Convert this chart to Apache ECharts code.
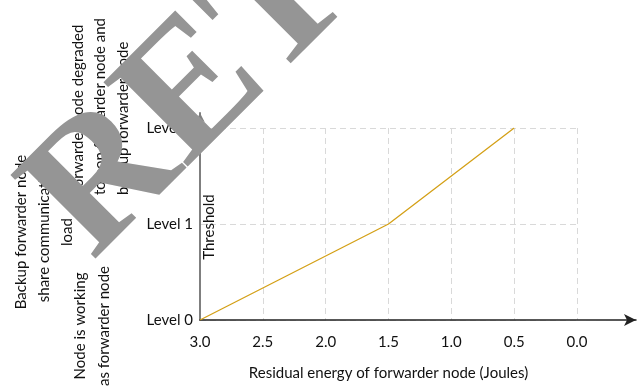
<!DOCTYPE html>
<html>
<head>
<meta charset="utf-8">
<script src="https://cdn.jsdelivr.net/npm/echarts@6/dist/echarts.min.js"></script>
<style>
  html, body { margin: 0; padding: 0; background: #fff; }
  #chart { width: 638px; height: 388px; }
</style>
</head>
<body>
<div id="chart"></div>
<script>
// values
const levels = ["Level 0", "Level 1", "Level 3"];
const energy = [3.0, 1.5, 0.5];
const thresholdLevel = ["Level 0", "Level 1", "Level 3"];

const FONT = "Lato, 'Open Sans', sans-serif";
const TEXT = "#111";

const chart = echarts.init(document.getElementById("chart"), null, { renderer: "canvas" });

function vtext(x, y, lines, lineHeight) {
  return {
    type: "text",
    x: x,
    y: y,
    rotation: Math.PI / 2,
    style: {
      text: lines.join("\n"),
      font: "15px " + FONT,
      fill: TEXT,
      align: "center",
      verticalAlign: "middle",
      lineHeight: lineHeight,
    },
    z: 5,
  };
}

chart.setOption({
  animation: false,
  backgroundColor: "#fff",
  grid: [
    { left: 200, right: 61, top: 128, bottom: 68 },
    { left: 200, right: 2, top: 113, bottom: 68 },
  ],
  xAxis: [
    {
      gridIndex: 0,
      type: "value",
      inverse: true,
      min: 0,
      max: 3,
      interval: 0.5,
      axisLine: { show: false },
      axisTick: { show: false },
      axisLabel: {
        color: TEXT,
        fontFamily: FONT,
        fontSize: 15,
        margin: 15,
        formatter: (v) => v.toFixed(1),
      },
      splitLine: { lineStyle: { color: "#d9d9d9", type: [6, 4], width: 1 } },
      name: "Residual energy of forwarder node (Joules)",
      nameLocation: "middle",
      nameGap: 46,
      nameTextStyle: { color: TEXT, fontFamily: FONT, fontSize: 15 },
    },
    {
      gridIndex: 1,
      type: "value",
      min: 0,
      max: 1,
      axisLine: {
        onZero: false,
        symbol: ["none", "arrow"],
        symbolSize: [9, 12],
        lineStyle: { color: "#222", width: 1.5 },
      },
      axisTick: { show: false },
      axisLabel: { show: false },
      splitLine: { show: false },
    },
  ],
  yAxis: [
    {
      gridIndex: 0,
      type: "category",
      data: levels,
      boundaryGap: false,
      axisLine: { show: false },
      axisTick: { show: false },
      axisLabel: { color: TEXT, fontFamily: FONT, fontSize: 15, margin: 7 },
      splitLine: { show: true, lineStyle: { color: "#d9d9d9", type: [6, 4], width: 1 } },
    },
    {
      gridIndex: 1,
      type: "value",
      min: 0,
      max: 1,
      axisLine: {
        onZero: false,
        symbol: ["none", "arrow"],
        symbolSize: [7, 9],
        lineStyle: { color: "#7f7f7f", width: 2 },
      },
      axisTick: { show: false },
      axisLabel: { show: false },
      splitLine: { show: false },
    },
  ],
  series: [
    {
      type: "line",
      xAxisIndex: 0,
      yAxisIndex: 0,
      data: energy.map((e, i) => [e, thresholdLevel[i]]),
      showSymbol: false,
      lineStyle: { color: "#d4a017", width: 1.3 },
      z: 3,
    },
  ],
  graphic: [
    vtext(44, 232, ["Backup forwarder node", "share communication", "load"], 23),
    vtext(92, 326, ["Node is working", "as forwarder node"], 24),
    vtext(209, 227, ["Threshold"], 20),
    {
      type: "text",
      x: 66.5,
      y: 195,
      rotation: Math.PI / 2,
      style: {
        text: "Forwarder node degraded\nto non forwarder node and\nbackup forwarder node",
        font: "15px " + FONT,
        fill: TEXT,
        align: "left",
        verticalAlign: "top",
        lineHeight: 22.5,
      },
      z: 5,
    },
    {
      type: "text",
      x: -5,
      y: 164,
      rotation: Math.PI / 4,
      style: {
        text: "RETRACTED",
        font: "bold 182px 'Liberation Serif', serif",
        fill: "#959595",
        align: "left",
        verticalAlign: "top",
      },
      z: 100,
    },
  ],
});
</script>
</body>
</html>
